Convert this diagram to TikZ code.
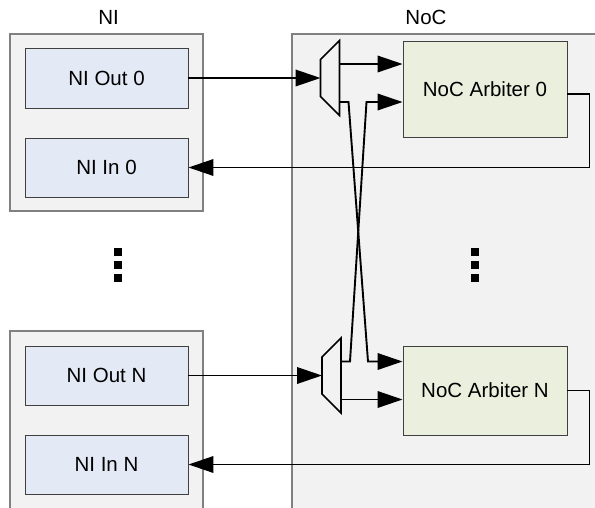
\documentclass[tikz,border=0pt]{standalone}
\usepackage{fontspec}
\setmainfont{Liberation Sans}
\usetikzlibrary{arrows.meta,calc}

\definecolor{panelgray}{RGB}{242,242,242}
\definecolor{panelline}{RGB}{128,128,128}
\definecolor{niblue}{RGB}{228,234,245}
\definecolor{arbgreen}{RGB}{235,240,222}
\definecolor{boxline}{RGB}{64,64,64}

\tikzset{
  panel/.style={draw=panelline, fill=panelgray, line width=1.2pt},
  nibox/.style={draw=boxline, fill=niblue, line width=0.9pt,
    minimum width=163pt, minimum height=59pt, inner sep=0pt,
    font=\fontsize{20.5}{24}\selectfont},
  arbbox/.style={draw=boxline, fill=arbgreen, line width=0.9pt,
    minimum width=164pt, inner sep=0pt,
    font=\fontsize{20.5}{24}\selectfont},
  title/.style={font=\fontsize{20.5}{24}\selectfont, inner sep=0pt},
  conn/.style={line width=1.9pt, draw=black},
  arr/.style={conn, -{Triangle[length=25pt,width=16.5pt]}},
  dotsq/.style={fill=black, minimum size=8pt, inner sep=0pt},
  mux/.pic={
    \draw[line width=1.6pt, fill=panelgray]
      (-9.5,-18.5) -- (9.5,-37.5) -- (9.5,37.5) -- (-9.5,18.5) -- cycle;
    \coordinate (-in) at (-9.5,0);
    \coordinate (-o1) at (9.5,-14);
    \coordinate (-o2) at (9.5,24);
  }
}

\begin{document}
\begin{tikzpicture}[x=1pt, y=-1pt]
  \useasboundingbox (0,0) rectangle (595,507);
  \clip (0,0) rectangle (595,507);

  % panels
  \draw[panel] (10,34) rectangle (203,211);
  \draw[panel] (10,331) rectangle (203,530);
  \draw[panel] (292,34) rectangle (620,530);

  \node[title] (tni) at (108.5,17.5) {NI};
  \node[title] (tnoc) at (426,17.5) {NoC};

  % network interface blocks
  \node[nibox, minimum height=60pt] (o0) at (106.5,78) {NI Out 0};
  \node[nibox] (i0) at (106.5,167.5) {NI In 0};
  \node[nibox] (oN) at (106.5,375.5) {NI Out N};
  \node[nibox] (iN) at (106.5,464.5) {NI In N};

  % arbiters
  \node[arbbox, minimum height=96pt] (a0) at (485,89) {NoC Arbiter 0};
  \node[arbbox, minimum height=89pt] (aN) at (485,390.5) {NoC Arbiter N};

  % multiplexers
  \pic (m0) at (330,78) {mux};
  \pic (mN) at (331.5,375.5) {mux};

  % ellipses
  \node[dotsq] (l1) at (117.5,252) {};
  \node[dotsq] (l2) at (117.5,265) {};
  \node[dotsq] (l3) at (117.5,278) {};
  \node[dotsq] (r1) at (475,252) {};
  \node[dotsq] (r2) at (475,265) {};
  \node[dotsq] (r3) at (475,278) {};

  % NI outputs into the multiplexers
  \draw[arr] (o0.east) -- (m0-in);
  \draw[arr] (oN.east) -- (mN-in);

  % multiplexer outputs to the arbiters
  \draw[arr] (m0-o1) -- (m0-o1 -| a0.west);
  \draw[arr] (mN-o2) -- (mN-o2 -| aN.west);
  \draw[arr] (m0-o2) -- ++(9,0) -- ($(mN-o1)+(27,0)$) -- (mN-o1 -| aN.west);
  \draw[arr] (mN-o1) -- ++(9,0) -- ($(m0-o2)+(27,0)$) -- (m0-o2 -| a0.west);

  % arbiter results back to the NI inputs
  \coordinate (a0out) at ($(a0.east)+(0,5)$);
  \draw[arr] (a0out) -- ++(22,0) |- (i0.east);
  \draw[arr] (aN.east) -- ++(22,0) |- (iN.east);
\end{tikzpicture}
\end{document}
